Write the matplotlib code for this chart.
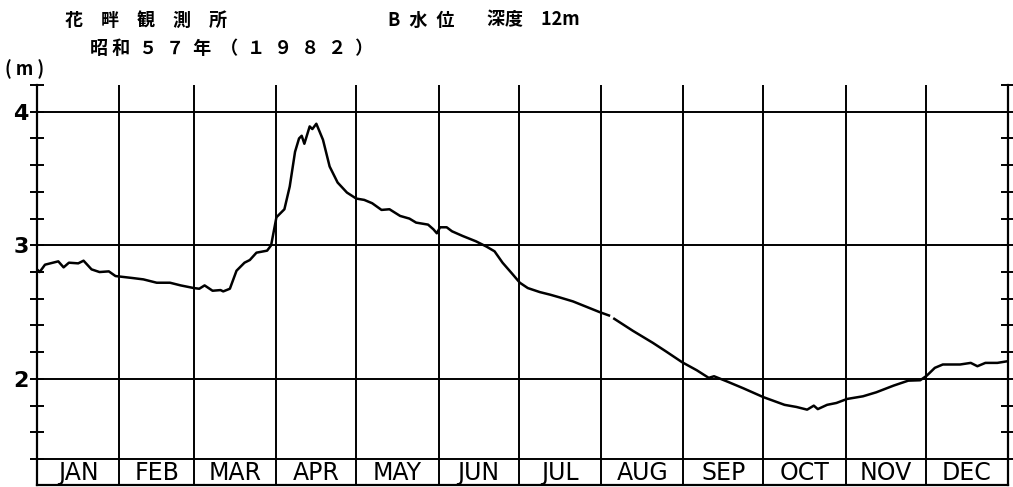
import matplotlib.pyplot as plt
import numpy as np

# water level, day of year 1982 (B水位, depth 12m)
days = [0, 1, 3, 8, 10, 12, 15.5, 17.5, 20.5, 23.5, 27, 29.5, 36, 40, 45, 50,
        54, 59, 61, 63, 66, 69, 70, 72.5, 75, 78, 80, 82.5, 86.5, 88, 90, 93,
        95, 97, 98.5, 99.5, 100.5, 102.5, 103.5, 105, 107.5, 110, 113, 116.5,
        120, 123, 126, 129.5, 132.5, 136.5, 140, 142.5, 147, 149, 150.3, 151.5,
        154, 156, 160, 165, 169, 172, 175, 178.5, 181.5, 184.5, 189, 193,
        196.5, 201.5, 206.5, 211.5, 215, 216, 217, 224, 231.5, 236.5, 242.5,
        248, 252.5, 254.5, 259.5, 265.5, 273, 281, 285.5, 289.5, 292, 293.5,
        297, 300.5, 304.5, 310.5, 315.5, 322, 327.5, 332, 334.5, 337.5, 340.5,
        347, 351, 353.5, 356.5, 361, 365]
level = [2.82, 2.80, 2.855, 2.88, 2.835, 2.87, 2.865, 2.885, 2.82, 2.80, 2.805,
         2.77, 2.755, 2.745, 2.72, 2.72, 2.70, 2.68, 2.675, 2.70, 2.66, 2.665,
         2.655, 2.675, 2.81, 2.87, 2.89, 2.945, 2.96, 3.0, 3.21, 3.27, 3.44,
         3.70, 3.80, 3.82, 3.76, 3.89, 3.87, 3.91, 3.79, 3.59, 3.47, 3.395,
         3.35, 3.34, 3.315, 3.265, 3.27, 3.22, 3.20, 3.17, 3.155, 3.12, 3.09,
         3.135, 3.135, 3.105, 3.07, 3.03, 2.99, 2.955, 2.87, 2.79, 2.72, 2.68,
         2.65, 2.63, 2.61, 2.58, 2.54, 2.50, 2.475, np.nan, 2.45, 2.36, 2.27,
         2.205, 2.125, 2.065, 2.008, 2.02, 1.98, 1.93, 1.864, 1.806, 1.79,
         1.77, 1.80, 1.774, 1.806, 1.82, 1.85, 1.87, 1.90, 1.95, 1.987, 1.99,
         2.025, 2.083, 2.108, 2.108, 2.12, 2.095, 2.12, 2.12, 2.133]

months = ['JAN', 'FEB', 'MAR', 'APR', 'MAY', 'JUN',
          'JUL', 'AUG', 'SEP', 'OCT', 'NOV', 'DEC']
month_days = [31, 28, 31, 30, 31, 30, 31, 31, 30, 31, 30, 31]

plt.rcParams['font.family'] = ['Noto Sans CJK JP', 'DejaVu Sans']

fig = plt.figure(figsize=(10.13, 4.87), dpi=100)
ax = fig.add_axes([37 / 1013, 2 / 487, 971 / 1013, 400 / 487])

ax.plot(days, level, color='black', lw=1.8)

ax.set_xlim(0, 365)
ax.set_ylim(1.206, 4.2)

# month grid and label strip
starts = np.concatenate([[0], np.cumsum(month_days)])
for s in starts[1:-1]:
    ax.axvline(s, color='black', lw=1.4)
for g in [2, 3, 4]:
    ax.axhline(g, color='black', lw=1.4)
ax.axhline(1.4, color='black', lw=1.4)
for i, m in enumerate(months):
    mid = (starts[i] + starts[i + 1]) / 2
    ax.text(mid, 1.298, m, ha='center', va='center', fontsize=17,
            family='DejaVu Sans')

ax.spines['top'].set_visible(False)
for side in ['left', 'right', 'bottom']:
    ax.spines[side].set_linewidth(1.6)

ax.set_xticks([])
ax.set_yticks([2, 3, 4])
ax.set_yticklabels(['2', '3', '4'], family='DejaVu Sans', fontsize=16,
                   fontweight='bold')
ax.set_yticks(np.arange(1.4, 4.21, 0.2), minor=True)
ax.tick_params(axis='y', which='both', direction='inout', length=10,
               width=1.4, left=True, right=True, pad=1)

fig.text(65 / 1013, 1 - 20 / 487, '花　畔　観　測　所', fontsize=13,
         fontweight='bold', va='center')
fig.text(388 / 1013, 1 - 20 / 487, 'B\u2002水\u2002位', fontsize=13,
         fontweight='bold', va='center')
fig.text(487 / 1013, 1 - 20 / 487, '深度\u2002\u200212m', fontsize=13,
         fontweight='bold', va='center')
fig.text(90 / 1013, 1 - 48 / 487,
         '昭 和\u2002５\u2002７\u2002年\u2002（\u2002１\u2002９\u2002８\u2002２\u2002）',
         fontsize=13, fontweight='bold', va='center')
fig.text(5 / 1013, 1 - 69 / 487, '( m )', fontsize=13,
         fontweight='bold', va='center')

fig.savefig('out.png', dpi=100)
